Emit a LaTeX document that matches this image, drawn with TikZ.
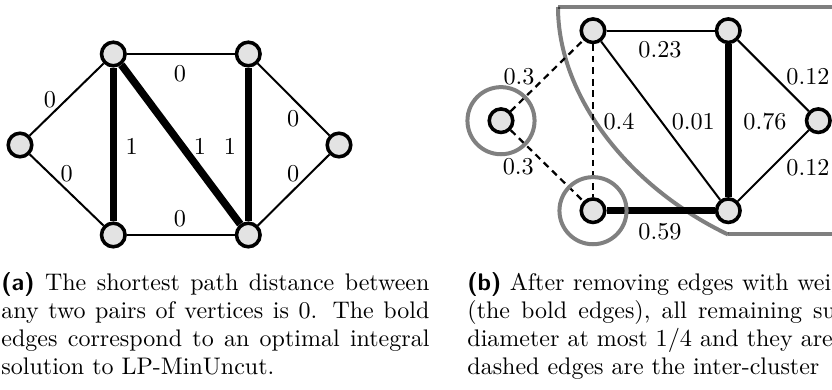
\documentclass[tikz,border=0pt]{standalone}
\usepackage{fontspec}
\begin{document}
\begin{tikzpicture}[x=0.45pt,y=-0.45pt,
  vtx/.style={circle,draw=black,fill=black!11,line width=1.6pt,minimum size=10.6pt,inner sep=0pt},
  lightedge/.style={line width=0.9pt},
  boldedge/.style={line width=3.4pt},
  dashedge/.style={line width=1pt,dash pattern=on 3pt off 2.2pt},
  lbl/.style={inner sep=0pt,font=\fontsize{10.9}{13}\selectfont},
  region/.style={draw=black,draw opacity=0.5,line width=1.8pt},
  ring/.style={circle,draw=black!50,line width=1.8pt,minimum size=30.2pt,inner sep=0pt},
  captext/.style={anchor=base west,inner sep=0pt}
]
\useasboundingbox (0,0) rectangle (832,390);
\clip (0,0) rectangle (832,390);

% ---------- (a) ----------
\node[vtx] (a1) at (20,145) {};
\node[vtx] (a2) at (113.3,54) {};
\node[vtx] (a3) at (248.3,54) {};
\node[vtx] (a4) at (113.3,235) {};
\node[vtx] (a5) at (248.3,235) {};
\node[vtx] (a6) at (339,145) {};

\draw[lightedge] (a1) -- (a2);
\draw[lightedge] (a1) -- (a4);
\draw[lightedge] (a2) -- (a3);
\draw[lightedge] (a4) -- (a5);
\draw[lightedge] (a3) -- (a6);
\draw[lightedge] (a5) -- (a6);
\draw[boldedge] (a2) -- (a4);
\draw[boldedge] (a2) -- (a5);
\draw[boldedge] (a3) -- (a5);

\node[lbl] (la1) at (50,100) {0};
\node[lbl] (la2) at (66.7,173.3) {0};
\node[lbl] (la3) at (180,73.3) {0};
\node[lbl] (la4) at (180,218.3) {0};
\node[lbl] (la5) at (131.7,146.7) {1};
\node[lbl] (la6) at (200,146.7) {1};
\node[lbl] (la7) at (230,146.7) {1};
\node[lbl] (la8) at (293.3,118.3) {0};
\node[lbl] (la9) at (293.3,173.3) {0};

% ---------- (b) ----------
\coordinate (g1) at (558,7);
\coordinate (g2) at (728,234.5);
\coordinate (g3) at (845,7);
\coordinate (g4) at (845,234.5);
\draw[region] (g1) -- (g3);
\draw[region] (g1) .. controls (558,95) and (627,186) .. (g2);
\draw[region] (g2) -- (g4);

\node[vtx] (b0) at (501,120.7) {};
\node[vtx] (b1) at (593,30.7) {};
\node[vtx] (b2) at (728.3,30.7) {};
\node[vtx] (b3) at (593,210.7) {};
\node[vtx] (b4) at (728.3,210.7) {};
\node[vtx] (b5) at (818.3,120.7) {};

\draw[dashedge] (b0) -- (b1);
\draw[dashedge] (b0) -- (b3);
\draw[dashedge] (b1) -- (b3);
\draw[lightedge] (b1) -- (b2);
\draw[lightedge] (b1) -- (b4);
\draw[lightedge] (b2) -- (b5);
\draw[lightedge] (b4) -- (b5);
\draw[boldedge] (b2) -- (b4);
\draw[boldedge] (b3) -- (b4);

\node[ring] (r0) at (b0) {};
\node[ring] (r3) at (b3) {};

\node[lbl] (lb1) at (519,77) {0.3};
\node[lbl] (lb2) at (518.3,166.7) {0.3};
\node[lbl] (lb3) at (619,121.7) {0.4};
\node[lbl] (lb4) at (693.3,121.7) {0.01};
\node[lbl] (lb5) at (660,49.3) {0.23};
\node[lbl] (lb6) at (660,231.7) {0.59};
\node[lbl] (lb7) at (765,121.7) {0.76};
\node[lbl] (lb8) at (808,76.7) {0.12};
\node[lbl] (lb9) at (808,168) {0.12};

% ---------- captions ----------
\node[captext] (capa) at (1,291) {\parbox[t]{192.6pt}{\fontsize{10.8}{12.6}\selectfont
  \textsf{\textbf{(a)}} The shortest path distance between\linebreak
  any two pairs of vertices is 0. The bold\linebreak
  edges correspond to an optimal integral\linebreak
  solution to LP-MinUncut.}};
\node[captext] (capb) at (467,291) {\parbox[t]{192.6pt}{\fontsize{10.8}{12.6}\selectfont\raggedright
  {\spaceskip=3.8pt\relax\textsf{\textbf{(b)}} After removing edges with weig}\\
  {\spaceskip=5pt\relax (the bold edges), all remaining su}\\
  diameter at most $1/4$ and they are\\
  dashed edges are the inter-cluster}};
\end{tikzpicture}
\end{document}
